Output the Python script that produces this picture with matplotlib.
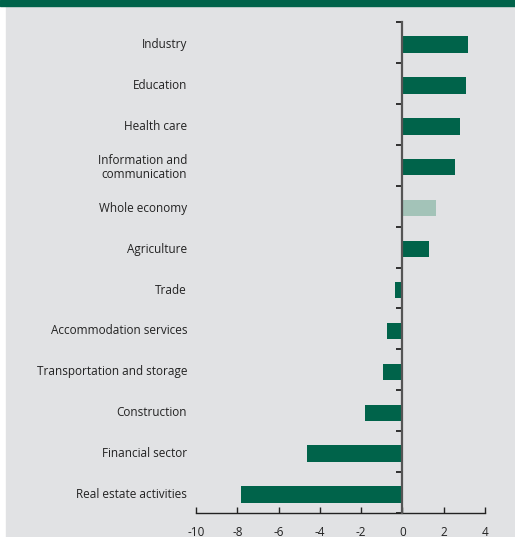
import matplotlib.pyplot as plt
from matplotlib.patches import Rectangle
import matplotlib.transforms as mtransforms

# change by sector, percent
sectors = [
    "Industry",
    "Education",
    "Health care",
    "Information and\ncommunication",
    "Whole economy",
    "Agriculture",
    "Trade",
    "Accommodation services",
    "Transportation and storage",
    "Construction",
    "Financial sector",
    "Real estate activities",
]
values = [3.2, 3.1, 2.8, 2.55, 1.65, 1.3, -0.35, -0.75, -0.95, -1.8, -4.6, -7.8]
highlight = "Whole economy"

x_ticks = [-10, -8, -6, -4, -2, 0, 2, 4]

dark_green = "#00634a"
light_green = "#a3c3b8"
bg = "#e1e2e4"

plt.rcParams['font.family'] = ['Open Sans', 'DejaVu Sans']

fig = plt.figure(figsize=(5.15, 5.37), dpi=100)
fig.patch.set_facecolor("white")

# grey panel and green header strip
fig.patches.append(Rectangle((6 / 515, 0), 1 - 6 / 515, 1 - 6 / 537,
                             transform=fig.transFigure, color=bg, zorder=-2))
fig.patches.append(Rectangle((0, 1 - 6 / 537), 1, 6 / 537,
                             transform=fig.transFigure, color=dark_green, zorder=-2))

ax = fig.add_axes([196 / 515, 24 / 537, 289 / 515, 491 / 537])
ax.set_zorder(1)
ax.set_facecolor("none")

ypos = list(range(len(sectors)))
colors = [light_green if s == highlight else dark_green for s in sectors]
ax.barh(ypos, values, height=0.4, color=colors, zorder=2)

ax.set_xlim(-10, 4)
ax.set_ylim(len(sectors) - 0.55, -0.55)

for side in ["top", "right"]:
    ax.spines[side].set_visible(False)
ax.spines["left"].set_position(("data", 0))
ax.spines["left"].set_color("#555555")
ax.spines["left"].set_linewidth(1.6)
ax.spines["left"].set_zorder(3)
ax.spines["bottom"].set_color("#222222")
ax.spines["bottom"].set_linewidth(1.0)

ax.set_yticks([i - 0.55 for i in range(len(sectors) + 1)])
ax.set_yticklabels([])
ax.tick_params(axis="y", direction="out", length=4, width=1.3, color="#222222")

ax.set_xticks(x_ticks)
ax.set_xticklabels([str(t) for t in x_ticks])
ax.tick_params(axis="x", direction="in", length=4, width=1.0, color="#222222",
               labelsize=8.5, labelcolor="#222222", pad=9)

# category labels sit in a column left of the plot area
trans = mtransforms.blended_transform_factory(ax.transAxes, ax.transData)
for y, name in zip(ypos, sectors):
    ax.text(-0.031, y, name, transform=trans, ha="right", va="center",
            fontsize=8.5, color="#222222", linespacing=1.15)

fig.savefig("out.png", dpi=100)
